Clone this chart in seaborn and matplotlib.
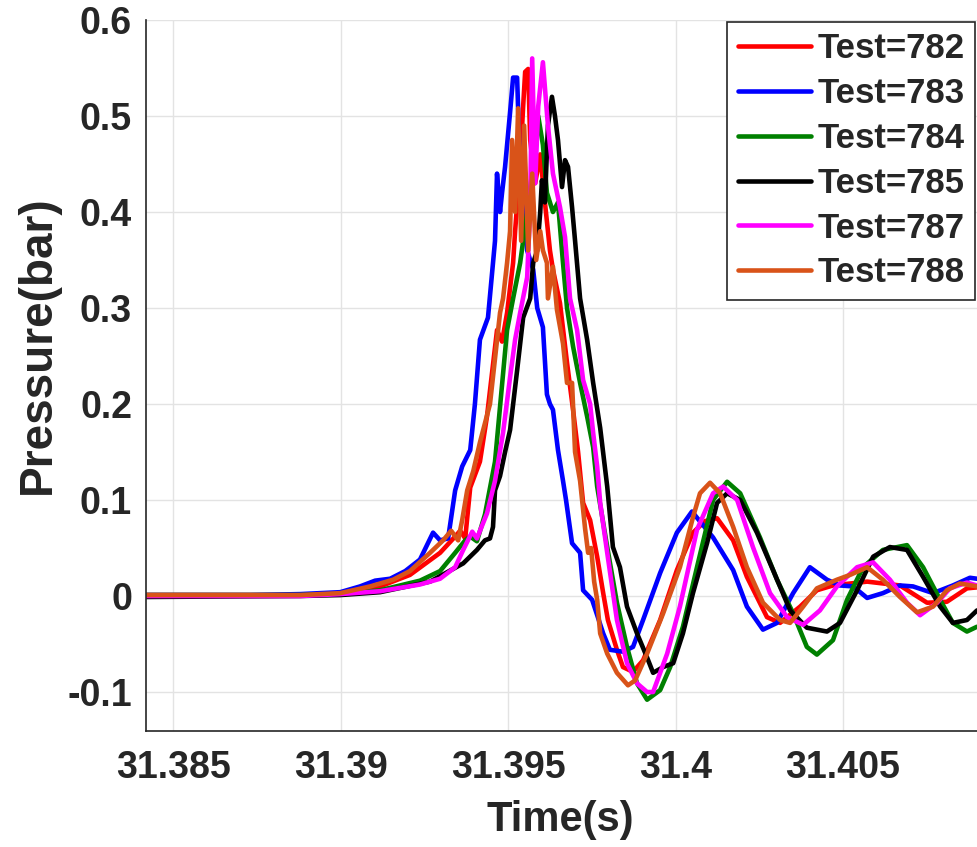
import matplotlib
matplotlib.use('Agg')
from matplotlib import pyplot as plt
import numpy as np
import pandas as pd
import seaborn as sns

# test ids and MATLAB-like colours
tests = ['Test=782', 'Test=783', 'Test=784', 'Test=785', 'Test=787', 'Test=788']
colors = ['#FF0000', '#0000FF', '#008000', '#000000', '#FF00FF', '#D95319']

# time (s) / pressure (bar)
t782 = [31.38419, 31.38879, 31.38999, 31.39118, 31.39207, 31.39297, 31.39342, 31.39357, 31.39372, 31.39387,
        31.39416, 31.39437, 31.39467, 31.39482, 31.39497, 31.39515, 31.39521, 31.39536, 31.39545, 31.39551,
        31.39560, 31.39566, 31.39581, 31.39596, 31.39610, 31.39625, 31.39634, 31.39655, 31.39676, 31.39694,
        31.39709, 31.39724, 31.39745, 31.39766, 31.39784, 31.39798, 31.39825, 31.39843, 31.39873, 31.39903,
        31.39954, 31.40004, 31.40052, 31.40088, 31.40124, 31.40172, 31.40213, 31.40273, 31.40312, 31.40372,
        31.40422, 31.40470, 31.40572, 31.40670, 31.40751, 31.40810, 31.40870, 31.40900]
p782 = [0.001, 0.001, 0.003, 0.010, 0.022, 0.045, 0.062, 0.068, 0.060, 0.113,
        0.140, 0.187, 0.277, 0.265, 0.295, 0.347, 0.380, 0.450, 0.510, 0.546,
        0.549, 0.475, 0.430, 0.460, 0.410, 0.360, 0.340, 0.305, 0.243, 0.194,
        0.150, 0.097, 0.079, 0.041, 0.003, -0.025, -0.056, -0.074, -0.079, -0.067,
        -0.025, 0.027, 0.066, 0.078, 0.081, 0.058, 0.020, -0.022, -0.028, -0.011,
        0.006, 0.011, 0.015, 0.011, -0.007, -0.006, 0.008, 0.009]

t783 = [31.38419, 31.38730, 31.38879, 31.38999, 31.39058, 31.39103, 31.39148, 31.39193, 31.39237, 31.39276,
        31.39297, 31.39321, 31.39342, 31.39363, 31.39387, 31.39401, 31.39416, 31.39440, 31.39455, 31.39461,
        31.39467, 31.39476, 31.39482, 31.39491, 31.39506, 31.39515, 31.39527, 31.39533, 31.39545, 31.39557,
        31.39575, 31.39587, 31.39604, 31.39616, 31.39625, 31.39634, 31.39649, 31.39664, 31.39673, 31.39691,
        31.39715, 31.39724, 31.39751, 31.39784, 31.39804, 31.39843, 31.39873, 31.39903, 31.39954, 31.40004,
        31.40049, 31.40112, 31.40172, 31.40213, 31.40261, 31.40303, 31.40351, 31.40401, 31.40452, 31.40491,
        31.40530, 31.40572, 31.40619, 31.40670, 31.40709, 31.40769, 31.40828, 31.40879, 31.40900]
p783 = [0.001, 0.001, 0.002, 0.004, 0.010, 0.016, 0.018, 0.026, 0.038, 0.066,
        0.058, 0.060, 0.110, 0.135, 0.152, 0.200, 0.267, 0.290, 0.347, 0.370,
        0.440, 0.400, 0.420, 0.447, 0.504, 0.540, 0.540, 0.475, 0.420, 0.360,
        0.340, 0.300, 0.280, 0.210, 0.200, 0.194, 0.152, 0.120, 0.100, 0.055,
        0.045, 0.006, -0.004, -0.039, -0.056, -0.058, -0.053, -0.025, 0.024, 0.066,
        0.088, 0.061, 0.027, -0.011, -0.035, -0.028, 0.003, 0.030, 0.017, 0.011,
        0.010, -0.002, 0.003, 0.011, 0.010, 0.003, 0.011, 0.019, 0.018]

t784 = [31.38419, 31.38879, 31.38999, 31.39118, 31.39237, 31.39297, 31.39342, 31.39372, 31.39387, 31.39407,
        31.39431, 31.39461, 31.39497, 31.39515, 31.39536, 31.39557, 31.39575, 31.39590, 31.39604, 31.39616,
        31.39634, 31.39649, 31.39664, 31.39676, 31.39694, 31.39715, 31.39736, 31.39754, 31.39766, 31.39796,
        31.39825, 31.39855, 31.39885, 31.39915, 31.39954, 31.39984, 31.40022, 31.40064, 31.40112, 31.40154,
        31.40193, 31.40252, 31.40303, 31.40351, 31.40392, 31.40422, 31.40470, 31.40512, 31.40560, 31.40619,
        31.40691, 31.40739, 31.40790, 31.40828, 31.40870, 31.40900]
p784 = [0.001, 0.001, 0.002, 0.006, 0.016, 0.026, 0.045, 0.058, 0.062, 0.057,
        0.085, 0.140, 0.277, 0.310, 0.347, 0.400, 0.450, 0.500, 0.470, 0.420,
        0.400, 0.410, 0.347, 0.300, 0.260, 0.222, 0.187, 0.155, 0.114, 0.051,
        -0.007, -0.053, -0.091, -0.108, -0.098, -0.074, -0.032, 0.030, 0.100, 0.119,
        0.107, 0.061, 0.017, -0.018, -0.053, -0.061, -0.046, -0.004, 0.030, 0.048,
        0.053, 0.030, -0.004, -0.028, -0.037, -0.032]

t785 = [31.38419, 31.38879, 31.38999, 31.39118, 31.39267, 31.39366, 31.39407, 31.39431, 31.39446, 31.39455,
        31.39461, 31.39476, 31.39491, 31.39506, 31.39527, 31.39545, 31.39566, 31.39575, 31.39587, 31.39596,
        31.39601, 31.39610, 31.39619, 31.39631, 31.39640, 31.39649, 31.39661, 31.39670, 31.39679, 31.39691,
        31.39700, 31.39715, 31.39736, 31.39754, 31.39775, 31.39796, 31.39813, 31.39834, 31.39855, 31.39885,
        31.39915, 31.39933, 31.39963, 31.39993, 31.40022, 31.40052, 31.40094, 31.40124, 31.40154, 31.40193,
        31.40243, 31.40291, 31.40342, 31.40392, 31.40452, 31.40491, 31.40542, 31.40590, 31.40640, 31.40691,
        31.40739, 31.40790, 31.40828, 31.40870, 31.40900]
p785 = [-0.001, 0.000, 0.001, 0.004, 0.015, 0.034, 0.048, 0.058, 0.060, 0.072,
        0.110, 0.125, 0.150, 0.173, 0.235, 0.290, 0.310, 0.347, 0.360, 0.400,
        0.433, 0.410, 0.490, 0.520, 0.500, 0.475, 0.426, 0.454, 0.447, 0.405,
        0.370, 0.310, 0.267, 0.222, 0.175, 0.114, 0.051, 0.030, -0.011, -0.039,
        -0.064, -0.080, -0.074, -0.070, -0.039, 0.003, 0.055, 0.097, 0.107, 0.100,
        0.066, 0.027, -0.015, -0.033, -0.037, -0.028, 0.006, 0.041, 0.051, 0.048,
        0.020, -0.011, -0.028, -0.025, -0.015]

t787 = [31.38419, 31.38879, 31.38999, 31.39118, 31.39237, 31.39297, 31.39342, 31.39366, 31.39393, 31.39407,
        31.39437, 31.39461, 31.39485, 31.39506, 31.39521, 31.39536, 31.39557, 31.39566, 31.39572, 31.39581,
        31.39590, 31.39604, 31.39619, 31.39634, 31.39655, 31.39670, 31.39685, 31.39706, 31.39724, 31.39745,
        31.39754, 31.39766, 31.39775, 31.39796, 31.39825, 31.39855, 31.39885, 31.39915, 31.39933, 31.39975,
        31.40013, 31.40064, 31.40112, 31.40142, 31.40184, 31.40231, 31.40282, 31.40333, 31.40381, 31.40431,
        31.40482, 31.40542, 31.40590, 31.40640, 31.40691, 31.40730, 31.40781, 31.40819, 31.40870, 31.40900]
p787 = [0.000, 0.000, 0.002, 0.005, 0.012, 0.018, 0.030, 0.048, 0.067, 0.060,
        0.086, 0.120, 0.170, 0.228, 0.267, 0.295, 0.332, 0.405, 0.560, 0.430,
        0.510, 0.556, 0.490, 0.440, 0.405, 0.374, 0.310, 0.277, 0.225, 0.200,
        0.170, 0.135, 0.097, 0.045, -0.025, -0.070, -0.091, -0.100, -0.100, -0.060,
        -0.011, 0.069, 0.107, 0.114, 0.100, 0.051, 0.003, -0.022, -0.030, -0.015,
        0.010, 0.030, 0.035, 0.017, -0.007, -0.020, -0.007, 0.008, 0.014, 0.011]

t788 = [31.38419, 31.38730, 31.38879, 31.38999, 31.39088, 31.39157, 31.39207, 31.39267, 31.39306, 31.39330,
        31.39351, 31.39363, 31.39378, 31.39396, 31.39416, 31.39446, 31.39476, 31.39485, 31.39497, 31.39506,
        31.39512, 31.39521, 31.39530, 31.39539, 31.39548, 31.39560, 31.39572, 31.39584, 31.39596, 31.39604,
        31.39616, 31.39619, 31.39634, 31.39646, 31.39664, 31.39676, 31.39691, 31.39700, 31.39715, 31.39730,
        31.39739, 31.39748, 31.39757, 31.39766, 31.39775, 31.39796, 31.39825, 31.39858, 31.39879, 31.39915,
        31.39963, 31.40013, 31.40052, 31.40073, 31.40103, 31.40133, 31.40172, 31.40213, 31.40261, 31.40312,
        31.40342, 31.40381, 31.40422, 31.40482, 31.40521, 31.40572, 31.40619, 31.40670, 31.40721, 31.40769,
        31.40810, 31.40849, 31.40900]
p788 = [0.001, 0.001, 0.001, 0.003, 0.010, 0.017, 0.026, 0.045, 0.058, 0.068,
        0.058, 0.079, 0.110, 0.130, 0.160, 0.200, 0.295, 0.310, 0.347, 0.380,
        0.475, 0.400, 0.508, 0.370, 0.490, 0.360, 0.440, 0.350, 0.380, 0.360,
        0.347, 0.310, 0.343, 0.298, 0.263, 0.222, 0.222, 0.150, 0.120, 0.070,
        0.045, 0.050, 0.015, -0.004, -0.039, -0.060, -0.080, -0.093, -0.088, -0.060,
        -0.018, 0.030, 0.082, 0.107, 0.118, 0.107, 0.072, 0.030, -0.007, -0.025,
        -0.028, -0.011, 0.008, 0.017, 0.022, 0.030, 0.017, -0.001, -0.017, -0.011,
        0.006, 0.013, 0.010]

xticks = [31.385, 31.39, 31.395, 31.4, 31.405]
xticklabels = ['31.385', '31.39', '31.395', '31.4', '31.405']
yticks = [-0.1, 0, 0.1, 0.2, 0.3, 0.4, 0.5, 0.6]
yticklabels = ['-0.1', '0', '0.1', '0.2', '0.3', '0.4', '0.5', '0.6']

times = [t782, t783, t784, t785, t787, t788]
press = [p782, p783, p784, p785, p787, p788]
df = pd.concat([pd.DataFrame({'time': t, 'pressure': p, 'test': name})
                for t, p, name in zip(times, press, tests)], ignore_index=True)

sns.set_style('whitegrid')
plt.rcParams['font.family'] = ['Liberation Sans', 'DejaVu Sans']
plt.rcParams['font.weight'] = 'bold'

fig = plt.figure(figsize=(9.77, 8.47), dpi=100)
ax = fig.add_axes([146 / 977, 1 - 731 / 847, 1 - 146 / 977, 711 / 847])

sns.lineplot(data=df, x='time', y='pressure', hue='test', hue_order=tests,
             palette=dict(zip(tests, colors)), estimator=None, sort=False,
             linewidth=3.3, legend=False, ax=ax)

ax.set_xlim(31.38419, 31.40900)
ax.set_ylim(-0.1406, 0.6)
ax.set_xticks(xticks)
ax.set_xticklabels(xticklabels)
ax.set_yticks(yticks)
ax.set_yticklabels(yticklabels)

ax.grid(True, color='#e3e3e3', linewidth=1)
for s in ['top', 'right']:
    ax.spines[s].set_visible(False)
for s in ['left', 'bottom']:
    ax.spines[s].set_visible(True)
    ax.spines[s].set_color('#262626')
    ax.spines[s].set_linewidth(1.2)

ax.tick_params(axis='both', direction='in', length=9, width=1.2, color='#262626',
               labelsize=27, labelcolor='#262626')
ax.tick_params(axis='x', pad=14)
ax.tick_params(axis='y', pad=10)
for lab in ax.get_xticklabels() + ax.get_yticklabels():
    lab.set_fontweight('bold')

ax.set_xlabel('Time(s)', fontsize=30, fontweight='bold', color='#262626', va='center')
ax.set_ylabel('Pressure(bar)', fontsize=33, fontweight='bold', color='#262626', va='center')
ax.xaxis.set_label_coords(0.498, -0.125)
ax.yaxis.set_label_coords(-0.13, 0.543)

leg = ax.legend(ax.lines[:len(tests)], tests, loc='upper right',
                bbox_to_anchor=(975 / 977, 1 - 22 / 847), bbox_transform=fig.transFigure,
                borderaxespad=0, prop={'weight': 'bold', 'size': 25},
                handlelength=2.1, handletextpad=0.2, labelspacing=0.34, borderpad=0.3,
                frameon=True, fancybox=False, framealpha=1, edgecolor='#262626')
leg.get_frame().set_linewidth(1.2)

fig.savefig('out.png', dpi=100)
